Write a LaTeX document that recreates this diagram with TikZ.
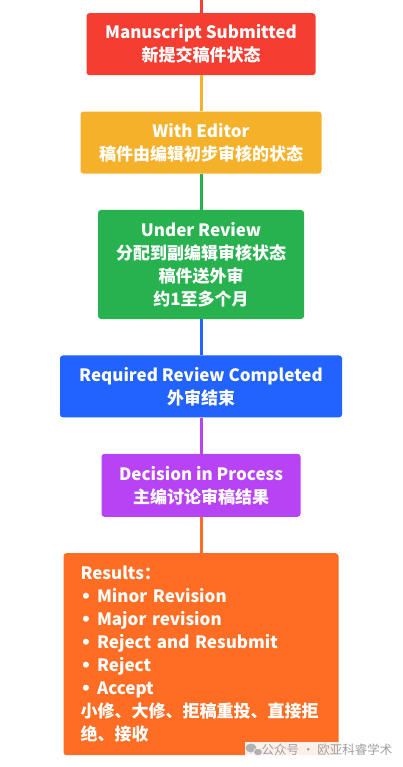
\documentclass[tikz,border=0pt]{standalone}
\usepackage{fontspec}
\newfontfamily\cjk{Noto Sans CJK SC}
\newfontfamily\dotfont{DejaVu Sans}
\usetikzlibrary{positioning}

\definecolor{subred}{RGB}{245,61,50}
\definecolor{edyellow}{RGB}{246,177,43}
\definecolor{revgreen}{RGB}{40,178,79}
\definecolor{compblue}{RGB}{34,98,255}
\definecolor{decpurple}{RGB}{184,67,245}
\definecolor{resorange}{RGB}{254,109,35}

\newcommand{\bul}{{\dotfont\bfseries •}\ }

\tikzset{
	stage/.style={rectangle, rounded corners=3pt, inner sep=0pt, align=center,
		text=white, font=\cjk\bfseries\fontsize{17}{23}\selectfont},
	link/.style={line width=3pt}
}

\begin{document}
\begin{tikzpicture}[x=1pt, y=1pt, node distance=36pt]
	\fill[white] (0,0) rectangle (402,-767);
	\useasboundingbox (0,0) rectangle (402,-767);

	% the six stages
	\node[stage, fill=subred, minimum width=229pt, minimum height=62pt, anchor=north] (submitted) at (201,-13)
		{Manuscript Submitted\\新提交稿件状态};
	\node[stage, fill=edyellow, minimum width=241pt, minimum height=62pt, below=of submitted] (editor)
		{With Editor\\稿件由编辑初步审核的状态};
	\node[stage, fill=revgreen, minimum width=206pt, minimum height=109pt, below=of editor] (review)
		{Under Review\\分配到副编辑审核状态\\稿件送外审\\约1至多个月};
	\node[stage, fill=compblue, minimum width=282pt, minimum height=62pt, below=of review] (completed)
		{Required Review Completed\\外审结束};
	\node[stage, fill=decpurple, minimum width=199pt, minimum height=63pt, below=of completed] (decision)
		{Decision in Process\\主编讨论审稿结果};
	\node[stage, fill=resorange, minimum width=275pt, minimum height=202pt, text width=241pt, align=left, below=of decision] (results)
		{Results：\\\bul Minor Revision\\\bul Major revision\\\bul Reject and Resubmit\\\bul Reject\\\bul Accept\\小修、大修、拒稿重投、直接拒\\绝、接收};

	% the line between them
	\coordinate (top) at (submitted.north |- 0,0);
	\draw[link, color=subred] (top) -- (submitted);
	\draw[link, color=edyellow] (submitted) -- (editor);
	\draw[link, color=revgreen] (editor) -- (review);
	\draw[link, color=compblue] (review) -- (completed);
	\draw[link, color=decpurple] (completed) -- (decision);
	\draw[link, color=resorange] (decision) -- (results);

	% the mark
	\fill[white, opacity=0.9] (245,-742) rectangle (402,-767);
	\fill[gray!60] (251,-748) ellipse (5.5pt and 4.5pt);
	\fill[gray!60, draw=white, line width=0.6pt] (258,-752) ellipse (4.5pt and 3.8pt);
	\node[font=\cjk\fontsize{12.5}{13}\selectfont, text=gray!75] (mark) at (327,-750) {公众号 · 欧亚科睿学术};
\end{tikzpicture}
\end{document}
